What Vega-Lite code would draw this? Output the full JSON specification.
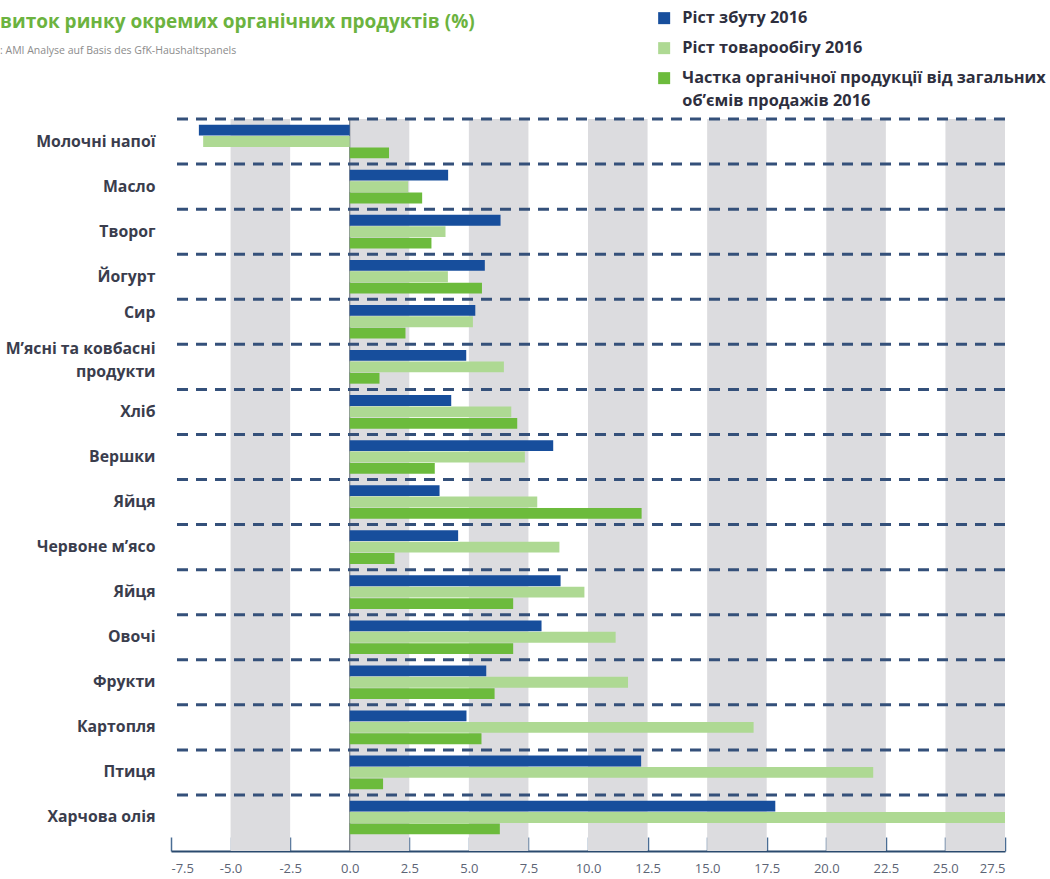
{
  "$schema": "https://vega.github.io/schema/vega-lite/v6.json",
  "width": 834,
  "height": 732,
  "autosize": {"type": "none"},
  "padding": {"left": 171, "top": 119, "right": 45, "bottom": 28},
  "background": "white",
  "config": {
    "view": {"stroke": null},
    "font": "Open Sans",
    "axis": {"title": null, "grid": false},
    "style": {"guide-label": {"lineHeight": 23}}
  },
  "title": {
    "text": "виток ринку окремих органічних продуктів (%)",
    "subtitle": ": AMI Analyse auf Basis des GfK-Haushaltspanels",
    "anchor": "start",
    "frame": "group",
    "dx": -171,
    "dy": 50,
    "fontSize": 19,
    "fontWeight": "bold",
    "color": "#6cb33f",
    "subtitleFontSize": 10.5,
    "subtitleColor": "#8c8c8c",
    "subtitlePadding": 14
  },
  "datasets": {
    "bars": [
      {"product": "Молочні напої", "series": "Ріст збуту 2016", "value": -6.33},
      {"product": "Молочні напої", "series": "Ріст товарообігу 2016", "value": -6.15},
      {"product": "Молочні напої", "series": "Частка органічної продукції від загальних об’ємів продажів 2016", "value": 1.65},
      {"product": "Масло", "series": "Ріст збуту 2016", "value": 4.13},
      {"product": "Масло", "series": "Ріст товарообігу 2016", "value": 2.45},
      {"product": "Масло", "series": "Частка органічної продукції від загальних об’ємів продажів 2016", "value": 3.04},
      {"product": "Творог", "series": "Ріст збуту 2016", "value": 6.33},
      {"product": "Творог", "series": "Ріст товарообігу 2016", "value": 4.02},
      {"product": "Творог", "series": "Частка органічної продукції від загальних об’ємів продажів 2016", "value": 3.43},
      {"product": "Йогурт", "series": "Ріст збуту 2016", "value": 5.67},
      {"product": "Йогурт", "series": "Ріст товарообігу 2016", "value": 4.12},
      {"product": "Йогурт", "series": "Частка органічної продукції від загальних об’ємів продажів 2016", "value": 5.55},
      {"product": "Сир", "series": "Ріст збуту 2016", "value": 5.27},
      {"product": "Сир", "series": "Ріст товарообігу 2016", "value": 5.17},
      {"product": "Сир", "series": "Частка органічної продукції від загальних об’ємів продажів 2016", "value": 2.34},
      {"product": "М’ясні та ковбасні продукти", "series": "Ріст збуту 2016", "value": 4.89},
      {"product": "М’ясні та ковбасні продукти", "series": "Ріст товарообігу 2016", "value": 6.47},
      {"product": "М’ясні та ковбасні продукти", "series": "Частка органічної продукції від загальних об’ємів продажів 2016", "value": 1.25},
      {"product": "Хліб", "series": "Ріст збуту 2016", "value": 4.26},
      {"product": "Хліб", "series": "Ріст товарообігу 2016", "value": 6.78},
      {"product": "Хліб", "series": "Частка органічної продукції від загальних об’ємів продажів 2016", "value": 7.03},
      {"product": "Вершки", "series": "Ріст збуту 2016", "value": 8.54},
      {"product": "Вершки", "series": "Ріст товарообігу 2016", "value": 7.35},
      {"product": "Вершки", "series": "Частка органічної продукції від загальних об’ємів продажів 2016", "value": 3.57},
      {"product": "Яйця", "series": "Ріст збуту 2016", "value": 3.77},
      {"product": "Яйця", "series": "Ріст товарообігу 2016", "value": 7.87},
      {"product": "Яйця", "series": "Частка органічної продукції від загальних об’ємів продажів 2016", "value": 12.25},
      {"product": "Червоне м’ясо", "series": "Ріст збуту 2016", "value": 4.55},
      {"product": "Червоне м’ясо", "series": "Ріст товарообігу 2016", "value": 8.8},
      {"product": "Червоне м’ясо", "series": "Частка органічної продукції від загальних об’ємів продажів 2016", "value": 1.88},
      {"product": "Яйця ", "series": "Ріст збуту 2016", "value": 8.85},
      {"product": "Яйця ", "series": "Ріст товарообігу 2016", "value": 9.85},
      {"product": "Яйця ", "series": "Частка органічної продукції від загальних об’ємів продажів 2016", "value": 6.86},
      {"product": "Овочі", "series": "Ріст збуту 2016", "value": 8.05},
      {"product": "Овочі", "series": "Ріст товарообігу 2016", "value": 11.16},
      {"product": "Овочі", "series": "Частка органічної продукції від загальних об’ємів продажів 2016", "value": 6.86},
      {"product": "Фрукти", "series": "Ріст збуту 2016", "value": 5.73},
      {"product": "Фрукти", "series": "Ріст товарообігу 2016", "value": 11.68},
      {"product": "Фрукти", "series": "Частка органічної продукції від загальних об’ємів продажів 2016", "value": 6.08},
      {"product": "Картопля", "series": "Ріст збуту 2016", "value": 4.9},
      {"product": "Картопля", "series": "Ріст товарообігу 2016", "value": 16.95},
      {"product": "Картопля", "series": "Частка органічної продукції від загальних об’ємів продажів 2016", "value": 5.53},
      {"product": "Птиця", "series": "Ріст збуту 2016", "value": 12.23},
      {"product": "Птиця", "series": "Ріст товарообігу 2016", "value": 21.97},
      {"product": "Птиця", "series": "Частка органічної продукції від загальних об’ємів продажів 2016", "value": 1.4},
      {"product": "Харчова олія", "series": "Ріст збуту 2016", "value": 17.86},
      {"product": "Харчова олія", "series": "Ріст товарообігу 2016", "value": 27.5},
      {"product": "Харчова олія", "series": "Частка органічної продукції від загальних об’ємів продажів 2016", "value": 6.3}
    ],
    "bands": [
      {"from": -5, "to": -2.5},
      {"from": 0, "to": 2.5},
      {"from": 5, "to": 7.5},
      {"from": 10, "to": 12.5},
      {"from": 15, "to": 17.5},
      {"from": 20, "to": 22.5},
      {"from": 25, "to": 27.5}
    ],
    "zero": [{"v": 0}]
  },
  "layer": [
    {
      "data": {"name": "bands"},
      "mark": {"type": "rect", "color": "#dcdcdf"},
      "encoding": {
        "x": {"field": "from", "type": "quantitative", "scale": {"domain": [-7.5, 27.5], "nice": false, "zero": false}},
        "x2": {"field": "to"}
      }
    },
    {
      "data": {"name": "zero"},
      "mark": {"type": "rule", "color": "#7a7f88", "strokeWidth": 1.2},
      "encoding": {
        "x": {"field": "v", "type": "quantitative"}
      }
    },
    {
      "data": {"name": "bars"},
      "mark": {"type": "bar"},
      "encoding": {
        "y": {
          "field": "product",
          "type": "nominal",
          "sort": null,
          "scale": {"paddingInner": 0, "paddingOuter": 0.122, "align": 0},
          "axis": {
            "domain": false,
            "ticks": false,
            "labelPadding": 16,
            "labelFontSize": 15.8,
            "labelFontWeight": "bold",
            "labelColor": "#3a3d4d",
            "labelLimit": 300,
            "labelLineHeight": 23,
            "labelOffset": {
              "condition": [
                {"test": "datum.value == 'М’ясні та ковбасні продукти'", "value": -18},
                {"test": "datum.value == 'Сир'", "value": -9}
              ],
              "value": 0
            },
            "labelExpr": "datum.value == 'М’ясні та ковбасні продукти' ? ['М’ясні та ковбасні', 'продукти'] : trim(datum.value)"
          }
        },
        "yOffset": {
          "field": "series",
          "type": "nominal",
          "sort": null,
          "scale": {"paddingInner": 0.05, "paddingOuter": 0.5}
        },
        "x": {
          "field": "value",
          "type": "quantitative",
          "axis": {
            "values": [-7.5, -5, -2.5, 0, 2.5, 5, 7.5, 10, 12.5, 15, 17.5, 20, 22.5, 25, 27.5],
            "format": ".1f",
            "labelExpr": "replace(datum.label, '−', '-')",
            "domainColor": "#2a4a6e",
            "domainWidth": 2,
            "tickColor": "#4a6d94",
            "tickWidth": 1.5,
            "tickSize": -14,
            "labelPadding": 25,
            "labelFontSize": 13,
            "labelColor": "#5c6475"
          }
        },
        "color": {
          "field": "series",
          "type": "nominal",
          "sort": null,
          "scale": {
            "domain": ["Ріст збуту 2016", "Ріст товарообігу 2016", "Частка органічної продукції від загальних об’ємів продажів 2016"],
            "range": ["#174e9c", "#aed993", "#6cbb3c"]
          },
          "legend": {
            "orient": "none",
            "legendX": 485,
            "legendY": -109,
            "title": null,
            "symbolType": "square",
            "symbolSize": 144,
            "symbolStrokeWidth": 0,
            "labelFontSize": 16.3,
            "labelFontWeight": "bold",
            "labelColor": "#2e2f3e",
            "labelLimit": 500,
            "rowPadding": 13,
            "labelOffset": 10,
            "labelExpr": "datum.label == 'Частка органічної продукції від загальних об’ємів продажів 2016' ? ['Частка органічної продукції від загальних', 'об’ємів продажів 2016'] : datum.label"
          }
        }
      }
    },
    {
      "data": {"name": "bars"},
      "transform": [{"filter": "datum.series == 'Ріст збуту 2016'"}],
      "mark": {"type": "rule", "color": "#34507a", "strokeWidth": 3, "strokeDash": [11, 8]},
      "encoding": {
        "y": {"field": "product", "type": "nominal", "sort": null, "bandPosition": 0}
      }
    }
  ]
}
